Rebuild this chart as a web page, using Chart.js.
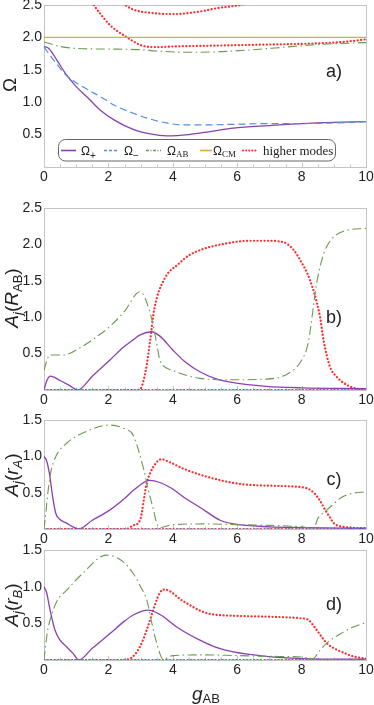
<!DOCTYPE html>
<html>
<head>
<meta charset="utf-8">
<script src="https://cdn.jsdelivr.net/npm/chart.js@4.4.1/dist/chart.umd.min.js"></script>
<style>
html, body { margin: 0; padding: 0; background: #fff; }
#wrap { position: relative; width: 374px; height: 705px; overflow: hidden; }
canvas { position: absolute; left: 0; top: 0; }
</style>
</head>
<body>
<div id="wrap">
  <canvas id="pa" width="374" height="705"></canvas>
  <canvas id="pb" width="374" height="705"></canvas>
  <canvas id="pc" width="374" height="705"></canvas>
  <canvas id="pd" width="374" height="705"></canvas>
</div>
<script>
// ---- tick labels ----
const xTicks = [0, 2, 4, 6, 8, 10];
const yTicksA = [0.5, 1.0, 1.5, 2.0, 2.5];
const yTicksB = [0.5, 1.0, 1.5, 2.0, 2.5];
const yTicksCD = [0.5, 1.0, 1.5];

// ---- panel a: frequencies ----
const plusG_a  = [0, 0.15, 0.4, 0.7, 1.0, 1.4, 1.74, 2.2, 2.77, 3.3, 3.8, 4.5, 5.2, 5.88, 7, 8, 9, 10];
const plusV_a  = [1.86, 1.83, 1.65, 1.42, 1.24, 1.05, 0.88, 0.72, 0.58, 0.51, 0.48, 0.50, 0.55, 0.60, 0.64, 0.67, 0.69, 0.70];
const minusG_a = [0, 0.3, 0.7, 1.0, 1.4, 1.74, 2.2, 2.77, 3.3, 3.8, 4.3, 5, 6, 7, 8, 9, 10];
const minusV_a = [1.85, 1.65, 1.41, 1.30, 1.18, 1.09, 0.95, 0.83, 0.74, 0.68, 0.65, 0.65, 0.66, 0.67, 0.67, 0.68, 0.70];
const abG_a    = [0, 0.5, 1, 2, 3, 3.5, 4.5, 5.5, 6.5, 7.5, 8.5, 10];
const abV_a    = [1.93, 1.86, 1.83, 1.82, 1.81, 1.79, 1.77, 1.78, 1.81, 1.85, 1.89, 1.92];
const cmG_a    = [0, 10];
const cmV_a    = [2.0, 2.0];
const hi1G_a   = [1.3, 1.43, 1.74, 2.05, 2.55, 3.07, 3.5, 4, 5, 6, 7, 8, 9, 9.5, 10];
const hi1V_a   = [2.68, 2.58, 2.37, 2.19, 2.01, 1.87, 1.85, 1.86, 1.87, 1.88, 1.89, 1.90, 1.92, 1.94, 1.97];
const hi2G_a   = [2.3, 2.52, 2.77, 3.29, 4.02, 4.84, 5.36, 6.09, 6.4];
const hi2V_a   = [2.6, 2.5, 2.43, 2.38, 2.36, 2.40, 2.45, 2.50, 2.54];

// ---- panel b: A_j(R_AB) ----
const plusG_b  = [0, 0.08, 0.2, 0.5, 0.8, 1.05, 1.5, 2.04, 2.5, 2.77, 3.0, 3.34, 3.6, 4.0, 4.4, 4.84, 5.3, 5.88, 6.9, 8, 10];
const plusV_b  = [0, 0.12, 0.19, 0.13, 0.06, 0, 0.19, 0.41, 0.60, 0.69, 0.76, 0.80, 0.74, 0.55, 0.38, 0.25, 0.16, 0.10, 0.05, 0.03, 0.02];
const abG_b    = [0, 0.1, 0.19, 0.6, 1.12, 1.6, 2.04, 2.5, 2.98, 3.1, 3.3, 3.4, 3.5, 3.6, 4.0, 4.84, 5.8, 6.9, 7.6, 8.0, 8.2, 8.47, 8.6, 8.78, 9.3, 10];
const abV_b    = [0.27, 0.42, 0.48, 0.48, 0.58, 0.72, 0.87, 1.08, 1.35, 1.30, 1.05, 0.87, 0.64, 0.41, 0.27, 0.16, 0.14, 0.15, 0.23, 0.41, 0.64, 1.47, 1.74, 1.97, 2.18, 2.22];
const hiG_b    = [0, 2.9, 3.0, 3.16, 3.3, 3.42, 3.72, 4.2, 4.5, 4.9, 5.5, 6.4, 6.9, 7.44, 7.74, 7.95, 8.26, 8.57, 8.68, 8.88, 9.09, 9.3, 9.6, 10];
const hiV_b    = [0, 0, 0.02, 0.27, 0.69, 1.10, 1.51, 1.74, 1.85, 1.93, 2.0, 2.05, 2.05, 2.03, 1.93, 1.79, 1.51, 1.01, 0.69, 0.32, 0.18, 0.10, 0.03, 0.01];

// ---- panel c: A_j(r_A) ----
const plusG_c  = [0, 0.08, 0.17, 0.27, 0.37, 0.5, 0.7, 0.9, 1.07, 1.5, 2.04, 2.5, 2.77, 3.28, 3.6, 3.96, 4.4, 4.84, 5.47, 5.88, 7, 8, 10];
const plusV_c  = [1.0, 0.94, 0.76, 0.44, 0.21, 0.13, 0.08, 0.03, 0, 0.12, 0.26, 0.42, 0.53, 0.67, 0.64, 0.56, 0.42, 0.30, 0.12, 0.07, 0.03, 0.02, 0.01];
const abG_c    = [0, 0.04, 0.12, 0.22, 0.37, 0.7, 1.2, 2.04, 2.5, 2.77, 3.08, 3.25, 3.4, 3.5, 3.62, 4.0, 5, 6, 7, 8, 8.38, 8.5, 8.78, 8.93, 9.26, 9.57, 10];
const abV_c    = [0, 0.15, 0.5, 0.8, 1.0, 1.18, 1.32, 1.43, 1.38, 1.29, 0.85, 0.52, 0.26, 0.08, 0.02, 0.06, 0.07, 0.06, 0.05, 0.03, 0.01, 0.14, 0.26, 0.32, 0.44, 0.49, 0.51];
const hiG_c    = [0, 2.55, 2.77, 2.98, 3.19, 3.39, 3.65, 3.9, 4.33, 5.05, 6.09, 7.43, 8.16, 8.4, 8.57, 8.75, 8.88, 9.0, 9.3, 10];
const hiV_c    = [0, 0, 0.05, 0.12, 0.63, 0.85, 0.96, 0.92, 0.83, 0.72, 0.62, 0.59, 0.56, 0.49, 0.39, 0.25, 0.16, 0.08, 0.03, 0.01];

// ---- panel d: A_j(r_B) ----
const plusG_d  = [0, 0.08, 0.19, 0.34, 0.5, 0.7, 0.9, 1.08, 1.5, 2.05, 2.5, 2.8, 3.24, 3.6, 4.12, 4.84, 5.3, 5.88, 6.9, 8, 10];
const plusV_d  = [1.0, 0.92, 0.68, 0.41, 0.27, 0.18, 0.09, 0, 0.16, 0.36, 0.53, 0.62, 0.68, 0.62, 0.45, 0.27, 0.18, 0.11, 0.05, 0.02, 0.01];
const abG_d    = [0, 0.05, 0.12, 0.19, 0.4, 0.7, 1.2, 1.93, 2.4, 2.77, 3.0, 3.19, 3.35, 3.5, 3.7, 4.0, 5, 6, 7, 8, 8.36, 8.55, 8.78, 9.3, 9.6, 10];
const abV_d    = [0, 0.2, 0.42, 0.55, 0.8, 0.95, 1.18, 1.43, 1.36, 1.18, 1.0, 0.82, 0.5, 0.23, 0.01, 0.06, 0.07, 0.06, 0.05, 0.04, 0.02, 0.12, 0.23, 0.38, 0.45, 0.51];
const hiG_d    = [0, 2.4, 2.77, 3.0, 3.19, 3.39, 3.6, 3.75, 4.33, 5.05, 6.09, 7.0, 7.95, 8.2, 8.4, 8.6, 8.78, 9.05, 9.3, 9.6, 10];
const hiV_d    = [0, 0, 0.05, 0.2, 0.41, 0.68, 0.92, 0.96, 0.80, 0.64, 0.60, 0.59, 0.57, 0.55, 0.45, 0.33, 0.23, 0.15, 0.10, 0.05, 0.02];

const zeroG = [0, 10];
const zeroV = [0, 0];

const PURPLE = '#8c3fae', BLUE = '#4f8fe0', GREEN = '#6a9a50', ORANGE = '#e7a73a', RED = '#ff2a2a';
const SANS = '"Liberation Sans", Arial, sans-serif';
const SERIF = '"Liberation Serif", "Times New Roman", serif';

function pts(g, v) { return g.map((x, i) => ({ x: x, y: v[i] })); }

const style = {
  plus:  { borderColor: PURPLE, borderWidth: 1.3 },
  minus: { borderColor: BLUE, borderWidth: 1.2, borderDash: [7, 4] },
  ab:    { borderColor: GREEN, borderWidth: 1.1, borderDash: [9, 3.5, 1.5, 3.5] },
  cm:    { borderColor: ORANGE, borderWidth: 1.3 },
  hi:    { borderColor: RED, borderWidth: 2.2, borderDash: [0.1, 3.4], borderCapStyle: 'round' }
};

function ds(kind, g, v) {
  return Object.assign({ data: pts(g, v), pointRadius: 0, fill: false, cubicInterpolationMode: 'monotone' }, style[kind]);
}

// frame + small inward ticks
const framePlugin = {
  id: 'frame',
  beforeDatasetsDraw(chart) {
    const { ctx, chartArea: a, scales } = chart;
    ctx.save();
    ctx.strokeStyle = '#c4c4c4';
    ctx.lineWidth = 1;
    ctx.strokeRect(Math.round(a.left) + 0.5, Math.round(a.top) + 0.5, Math.round(a.right - a.left), Math.round(a.bottom - a.top));
    ctx.beginPath();
    for (let g = 0; g <= 10; g += 0.5) {
      const px = Math.round(scales.x.getPixelForValue(g)) + 0.5;
      const len = (g % 2 === 0) ? 4 : 2.5;
      ctx.moveTo(px, a.bottom);
      ctx.lineTo(px, a.bottom - len);
    }
    ctx.stroke();
    ctx.restore();
  }
};

function textRun(ctx, parts, x, y) {
  let cx = x;
  for (const p of parts) {
    ctx.font = p.f;
    ctx.fillText(p.t, cx, y + (p.dy || 0));
    cx += ctx.measureText(p.t).width;
  }
}
function runWidth(ctx, parts) {
  let w = 0;
  for (const p of parts) { ctx.font = p.f; w += ctx.measureText(p.t).width; }
  return w;
}
function vTitle(ctx, parts, bx, cy) {
  ctx.save();
  ctx.translate(bx, cy);
  ctx.rotate(-Math.PI / 2);
  ctx.fillStyle = '#222';
  ctx.textBaseline = 'alphabetic';
  ctx.textAlign = 'left';
  const w = runWidth(ctx, parts);
  textRun(ctx, parts, -w / 2, 0);
  ctx.restore();
}
function panelLabel(ctx, t, x, y) {
  ctx.save();
  ctx.font = '18px ' + SANS;
  ctx.fillStyle = '#222';
  ctx.textAlign = 'center';
  ctx.textBaseline = 'middle';
  ctx.fillText(t, x, y);
  ctx.restore();
}

const BIG = '19px ' + SANS, BIGI = 'italic 19px ' + SANS, SUB = '13px ' + SANS, SUBI = 'italic 13px ' + SANS;

function drawLegend(ctx) {
  ctx.save();
  ctx.strokeStyle = '#666';
  ctx.lineWidth = 1;
  ctx.beginPath();
  ctx.roundRect(58.5, 139.5, 277, 21.5, 7);
  ctx.stroke();
  const y = 150.5;
  const samples = [
    ['plus', 61, 76], ['minus', 104, 118], ['ab', 146, 161], ['cm', 200, 212], ['hi', 243, 256]
  ];
  for (const [k, x1, x2] of samples) {
    const s = style[k];
    ctx.strokeStyle = s.borderColor;
    ctx.lineWidth = k === 'hi' ? 2 : 1.6;
    ctx.setLineDash(k === 'minus' ? [3, 2] : k === 'ab' ? [3, 1.5, 1, 1.5] : k === 'hi' ? [0.1, 3] : []);
    ctx.lineCap = k === 'hi' ? 'round' : 'butt';
    ctx.beginPath();
    ctx.moveTo(x1, y);
    ctx.lineTo(x2, y);
    ctx.stroke();
  }
  ctx.setLineDash([]);
  ctx.fillStyle = '#222';
  ctx.textBaseline = 'alphabetic';
  const OM = '12px ' + SANS;
  textRun(ctx, [{ t: 'Ω', f: OM }, { t: '+', f: '10px ' + SANS, dy: 4 }], 81, 154.5);
  textRun(ctx, [{ t: 'Ω', f: OM }, { t: '−', f: '10px ' + SANS, dy: 4 }], 124, 154.5);
  textRun(ctx, [{ t: 'Ω', f: OM }, { t: 'AB', f: '9px ' + SERIF, dy: 2 }], 167, 154.5);
  textRun(ctx, [{ t: 'Ω', f: OM }, { t: 'CM', f: '9px ' + SERIF, dy: 2 }], 213, 154.5);
  textRun(ctx, [{ t: 'higher modes', f: '13px ' + SERIF }], 263, 154.5);
  ctx.restore();
}

function makeChart(id, datasets, yMax, yTicks, top, bottom, extraDraw) {
  const ctx = document.getElementById(id).getContext('2d');
  return new Chart(ctx, {
    type: 'line',
    data: { datasets: datasets },
    options: {
      responsive: false,
      animation: false,
      devicePixelRatio: 1,
      events: [],
      layout: { padding: { left: 0, right: 8, top: top, bottom: 705 - bottom - 20 } },
      plugins: { legend: { display: false }, tooltip: { enabled: false } },
      scales: {
        x: {
          type: 'linear', min: 0, max: 10,
          grid: { display: false, drawTicks: false }, border: { display: false },
          afterBuildTicks: s => { s.ticks = xTicks.map(v => ({ value: v })); },
          ticks: { padding: 2, color: '#222', font: { family: SANS, size: 14 }, maxRotation: 0, autoSkip: false,
                   callback: v => String(v) },
          afterFit: s => { s.height = 20; s.paddingLeft = 0; s.paddingRight = 0; }
        },
        y: {
          type: 'linear', min: 0, max: yMax,
          grid: { display: false, drawTicks: false }, border: { display: false },
          afterBuildTicks: s => { s.ticks = yTicks.map(v => ({ value: v })); },
          ticks: { padding: 2, color: '#222', font: { family: SANS, size: 14 }, autoSkip: false,
                   callback: v => v.toFixed(1) },
          afterFit: s => { s.width = 44; s.paddingTop = 0; s.paddingBottom = 0; }
        }
      }
    },
    plugins: [framePlugin, { id: 'extra', afterDraw(chart) { extraDraw(chart.ctx); } }]
  });
}

makeChart('pa', [
  ds('cm', cmG_a, cmV_a),
  ds('ab', abG_a, abV_a),
  ds('minus', minusG_a, minusV_a),
  ds('plus', plusG_a, plusV_a),
  ds('hi', hi1G_a, hi1V_a),
  ds('hi', hi2G_a, hi2V_a)
], 2.5, yTicksA, 5, 167, ctx => {
  vTitle(ctx, [{ t: 'Ω', f: BIG }], 16, 85);
  panelLabel(ctx, 'a)', 334, 72);
  drawLegend(ctx);
});

makeChart('pb', [
  ds('minus', zeroG, zeroV),
  ds('ab', abG_b, abV_b),
  ds('plus', plusG_b, plusV_b),
  ds('hi', zeroG, zeroV),
  ds('hi', hiG_b, hiV_b)
], 2.5, yTicksB, 208, 390, ctx => {
  vTitle(ctx, [{ t: 'A', f: BIGI }, { t: 'j', f: SUBI, dy: 4 }, { t: '(', f: BIG }, { t: 'R', f: BIGI }, { t: 'AB', f: SUB, dy: 4 }, { t: ')', f: BIG }], 18, 298);
  panelLabel(ctx, 'b)', 334, 318);
});

makeChart('pc', [
  ds('minus', zeroG, zeroV),
  ds('ab', abG_c, abV_c),
  ds('plus', plusG_c, plusV_c),
  ds('hi', zeroG, zeroV),
  ds('hi', hiG_c, hiV_c)
], 1.5, yTicksCD, 420, 529, ctx => {
  vTitle(ctx, [{ t: 'A', f: BIGI }, { t: 'j', f: SUBI, dy: 4 }, { t: '(', f: BIG }, { t: 'r', f: BIGI }, { t: 'A', f: SUBI, dy: 4 }, { t: ')', f: BIG }], 18, 475);
  panelLabel(ctx, 'c)', 334, 480);
});

makeChart('pd', [
  ds('minus', zeroG, zeroV),
  ds('ab', abG_d, abV_d),
  ds('plus', plusG_d, plusV_d),
  ds('hi', zeroG, zeroV),
  ds('hi', hiG_d, hiV_d)
], 1.5, yTicksCD, 550, 660, ctx => {
  vTitle(ctx, [{ t: 'A', f: BIGI }, { t: 'j', f: SUBI, dy: 4 }, { t: '(', f: BIG }, { t: 'r', f: BIGI }, { t: 'B', f: SUBI, dy: 4 }, { t: ')', f: BIG }], 18, 605);
  panelLabel(ctx, 'd)', 334, 605);
  ctx.save();
  ctx.fillStyle = '#222';
  const parts = [{ t: 'g', f: BIGI }, { t: 'AB', f: SUB, dy: 3 }];
  textRun(ctx, parts, 206 - runWidth(ctx, parts) / 2, 700);
  ctx.restore();
});
</script>
</body>
</html>
